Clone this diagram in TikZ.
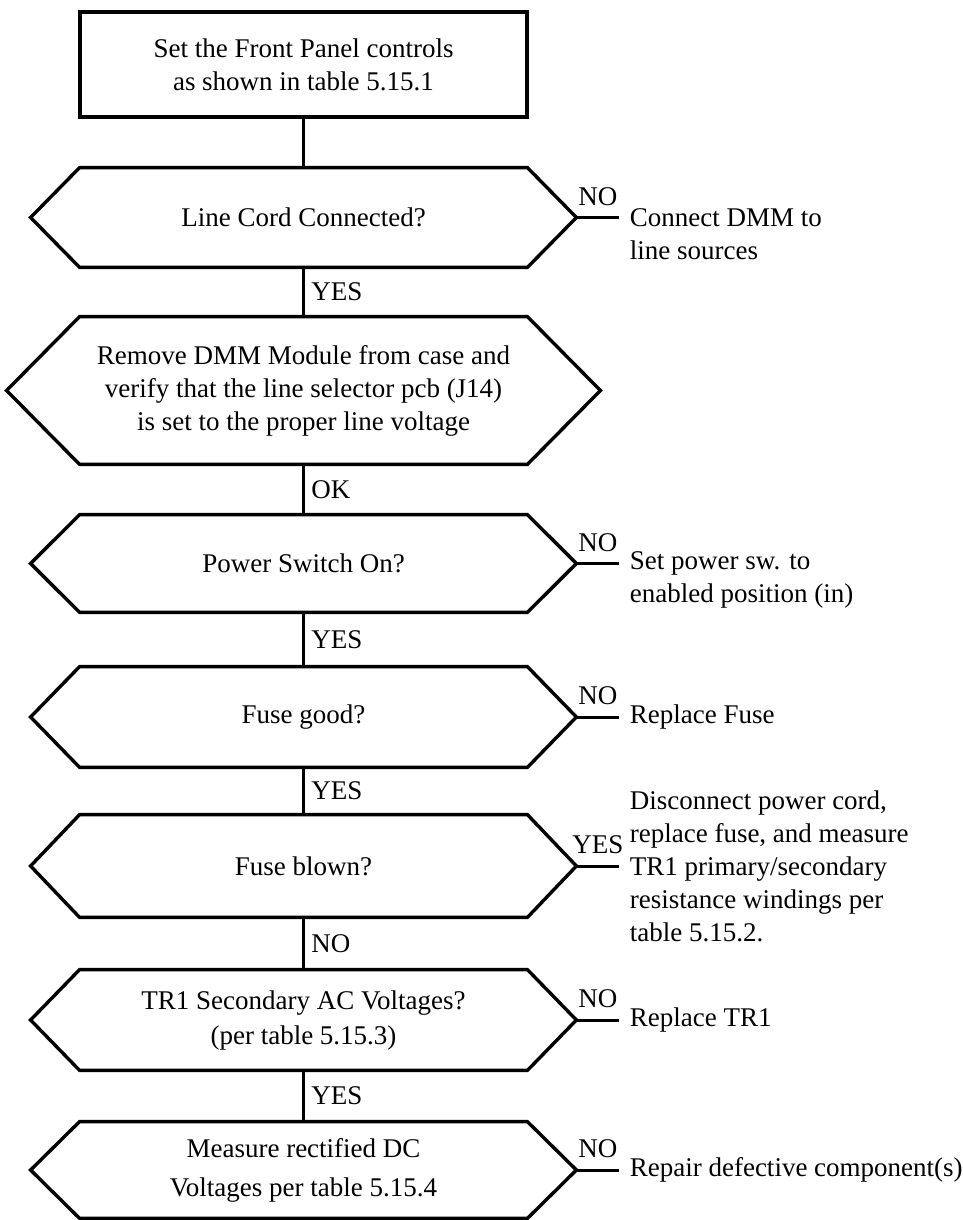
\documentclass[tikz,border=0pt]{standalone}
\usepackage{fontspec}
\setmainfont{Liberation Serif}
\usepackage{tikz}

\begin{document}
\begin{tikzpicture}[x=0.5pt, y=-0.5pt,
	every node/.style={font=\fontsize{13.5}{16.5}\selectfont},
	startbox/.style={draw, line width=1.7pt, minimum width=223.5pt, minimum height=52.5pt, align=center},
	decision/.style={minimum width=223.5pt, minimum height=50pt, align=center, inner sep=0pt},
	hexline/.style={line width=1.7pt},
	flow/.style={line width=1.2pt},
	stub/.style={line width=1.5pt},
	note/.style={anchor=west, align=left, inner sep=5pt}]
	\useasboundingbox (0,0) rectangle (963,1220);

	\node[startbox] (setup) at (303.5,64.5) {Set the Front Panel controls\\as shown in table 5.15.1};
	\node[decision, minimum height=49.5pt] (cord) at (303.5,217.5) {Line Cord Connected?};
	\node[decision, minimum height=73.5pt] (module) at (303.5,390.5) {Remove DMM Module from case and\\verify that the line selector pcb (J14)\\is set to the proper line voltage};
	\node[decision, minimum height=48.5pt] (power) at (303.5,563.5) {Power Switch On?};
	\node[decision] (fusegood) at (303.5,717) {Fuse good?};
	\node[decision, minimum height=51pt] (fuseblown) at (303.5,866) {Fuse blown?};
	\node[decision] (tr1) at (303.5,1020) {TR1 Secondary AC Voltages?\\[1pt](per table 5.15.3)};
	\node[decision, minimum height=48pt] (dcvolt) at (303.5,1170) {Measure rectified DC\\[3pt]Voltages per table 5.15.4};

	% hexagon outlines round the decision nodes
	\foreach \n/\d in {cord/49, module/73, power/49, fusegood/49, fuseblown/49, tr1/49, dcvolt/49}
		\draw[hexline] (\n.north west) -- (\n.north east) -- ([shift={(\d,0)}]\n.east) coordinate (\n-tip)
			-- (\n.south east) -- (\n.south west) -- ([shift={(-\d,0)}]\n.west) -- cycle;

	\draw[flow] (setup) -- (cord);
	\draw[flow] (cord) -- node[right] (cord-yes) {YES} (module);
	\draw[flow] (module) -- node[right] (module-ok) {OK} (power);
	\draw[flow] (power) -- node[right] (power-yes) {YES} (fusegood);
	\draw[flow] (fusegood) -- node[right] (fusegood-yes) {YES} (fuseblown);
	\draw[flow] (fuseblown) -- node[right] (fuseblown-no) {NO} (tr1);
	\draw[flow] (tr1) -- node[right] (tr1-yes) {YES} (dcvolt);

	\draw[stub] (cord-tip) -- node[above=2pt] (cord-no) {NO} ++(43,0) coordinate (cord-end);
	\draw[stub] (power-tip) -- node[above=2pt] (power-no) {NO} ++(43,0) coordinate (power-end);
	\draw[stub] (fusegood-tip) -- node[above=2pt] (fusegood-no) {NO} ++(43,0) coordinate (fusegood-end);
	\draw[stub] (fuseblown-tip) -- node[above=2pt] (fuseblown-yes) {YES} ++(43,0) coordinate (fuseblown-end);
	\draw[stub] (tr1-tip) -- node[above=2pt] (tr1-no) {NO} ++(43,0) coordinate (tr1-end);
	\draw[stub] (dcvolt-tip) -- node[above=2pt] (dcvolt-no) {NO} ++(43,0) coordinate (dcvolt-end);

	\node[note, yshift=-8.25pt] (cord-act) at (cord-end) {Connect DMM to\\line sources};
	\node[note, yshift=-8.25pt] (power-act) at (power-end) {Set power sw. to\\enabled position (in)};
	\node[note] (fusegood-act) at (fusegood-end) {Replace Fuse};
	\node[note] (fuseblown-act) at (fuseblown-end) {Disconnect power cord,\\replace fuse, and measure\\TR1 primary/secondary\\resistance windings per\\table 5.15.2.};
	\node[note] (tr1-act) at (tr1-end) {Replace TR1};
	\node[note] (dcvolt-act) at (dcvolt-end) {Repair defective component(s)};
\end{tikzpicture}
\end{document}
